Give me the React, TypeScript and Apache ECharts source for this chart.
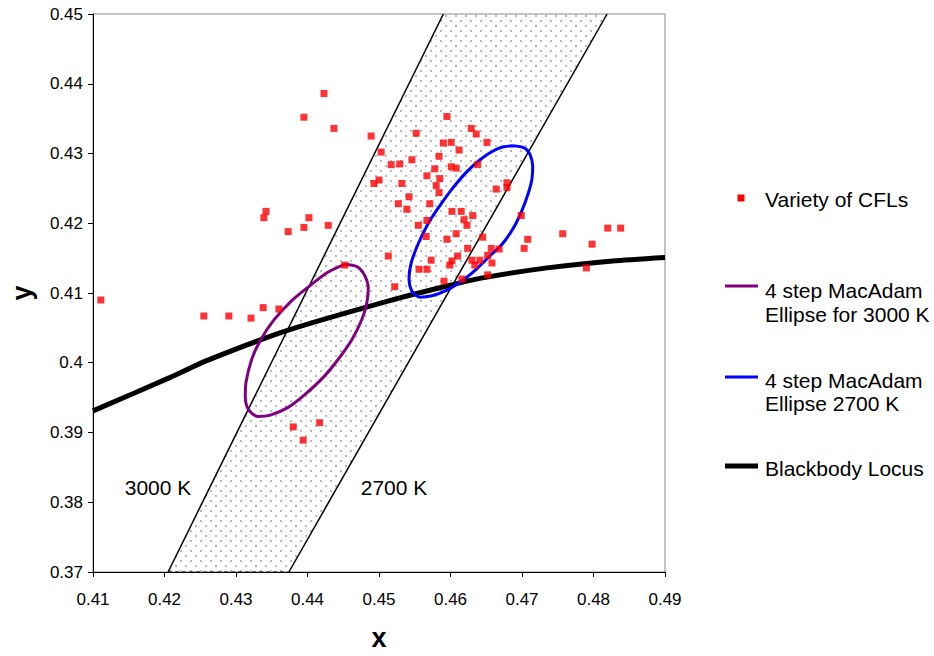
import React, { useEffect, useRef } from "react";
import * as echarts from "echarts";

const FONT = 'Arial, "Liberation Sans", Helvetica, sans-serif';

// Axis ranges / ticks
const xMin = 0.41;
const xMax = 0.49;
const yMin = 0.37;
const yMax = 0.45;
const tickStep = 0.01;

// Measured chromaticity points of a variety of CFLs
const cflPoints: [number, number][] = [
  [0.4111, 0.409], [0.4255, 0.4067], [0.429, 0.4067], [0.4321, 0.4064], [0.4338, 0.4079],
  [0.436, 0.4077], [0.4452, 0.414], [0.438, 0.3908], [0.4417, 0.3914], [0.4394, 0.3889],
  [0.4423, 0.4386], [0.4395, 0.4352], [0.4437, 0.4336], [0.4489, 0.4325], [0.4503, 0.4302],
  [0.4493, 0.4257], [0.45, 0.4262], [0.4342, 0.4217], [0.4339, 0.4208], [0.4402, 0.4208],
  [0.4395, 0.4194], [0.4429, 0.4197], [0.4373, 0.4188], [0.4513, 0.4153], [0.4522, 0.4109],
  [0.4595, 0.4353], [0.4552, 0.4329], [0.4629, 0.4336], [0.4636, 0.4328], [0.459, 0.4315],
  [0.4601, 0.4316], [0.4651, 0.4316], [0.4612, 0.4305], [0.4584, 0.4296], [0.4546, 0.4291],
  [0.4517, 0.4284], [0.4529, 0.4285], [0.4578, 0.4278], [0.4601, 0.4281], [0.4608, 0.4279],
  [0.4638, 0.4284], [0.4567, 0.4268], [0.4585, 0.4264], [0.4532, 0.4257], [0.458, 0.4254],
  [0.4584, 0.4244], [0.4664, 0.4249], [0.4679, 0.4258], [0.4679, 0.4251], [0.4542, 0.4238],
  [0.4527, 0.4228], [0.4571, 0.4228], [0.4539, 0.422], [0.4602, 0.4217], [0.4615, 0.4217],
  [0.4631, 0.4211], [0.4699, 0.4211], [0.4619, 0.4205], [0.4567, 0.4204], [0.4555, 0.4197],
  [0.4623, 0.4197], [0.4566, 0.4181], [0.4608, 0.4185], [0.4595, 0.4177], [0.4645, 0.418],
  [0.4757, 0.4185], [0.482, 0.4193], [0.4838, 0.4193], [0.4708, 0.4177], [0.4798, 0.417],
  [0.4703, 0.4164], [0.4668, 0.4163], [0.4657, 0.4164], [0.4624, 0.4164], [0.4652, 0.4154],
  [0.461, 0.4153], [0.4573, 0.4147], [0.4602, 0.4146], [0.463, 0.4147], [0.4641, 0.4147],
  [0.4658, 0.4143], [0.4634, 0.414], [0.4599, 0.414], [0.4556, 0.4134], [0.4567, 0.4134],
  [0.479, 0.4136], [0.4652, 0.4126], [0.4591, 0.4117], [0.4616, 0.412],
];

// Blackbody (Planckian) locus
const locusPoints: [number, number][] = [
  [0.41, 0.3931], [0.4208, 0.3979], [0.4259, 0.4003], [0.4371, 0.4046], [0.4515, 0.4089],
  [0.4595, 0.411], [0.4641, 0.4121], [0.4735, 0.4136], [0.4827, 0.4146], [0.49, 0.4151],
];

// 4 step MacAdam ellipse, 3000 K
const ellipse3000: [number, number][] = [
  [0.4452, 0.4141], [0.4469, 0.4138], [0.4479, 0.4127], [0.4485, 0.4107], [0.4483, 0.4086],
  [0.4476, 0.4062], [0.4462, 0.4033], [0.4443, 0.4005], [0.4422, 0.3979], [0.4397, 0.3955],
  [0.4373, 0.3936], [0.4348, 0.3925], [0.4331, 0.3923], [0.4318, 0.3932], [0.4313, 0.3951],
  [0.4314, 0.3972], [0.4322, 0.4005], [0.4334, 0.4032], [0.4352, 0.406], [0.4378, 0.4089],
  [0.4404, 0.4111], [0.4429, 0.413], [0.4452, 0.4141],
];

// 4 step MacAdam ellipse, 2700 K
const ellipse2700: [number, number][] = [
  [0.4687, 0.4311], [0.4703, 0.4308], [0.4711, 0.4299], [0.4715, 0.4281], [0.4714, 0.4264],
  [0.471, 0.4247], [0.4701, 0.4221], [0.4689, 0.4195], [0.4673, 0.4171], [0.4655, 0.4153],
  [0.4636, 0.4134], [0.4618, 0.4119], [0.4595, 0.4104], [0.4574, 0.4096], [0.4557, 0.4094],
  [0.4546, 0.4103], [0.4542, 0.4121], [0.4545, 0.4143], [0.4555, 0.4171], [0.4569, 0.42],
  [0.4585, 0.4225], [0.4602, 0.4249], [0.4623, 0.4274], [0.4645, 0.4294], [0.4669, 0.4308],
  [0.4687, 0.4311],
];

// Isotemperature lines bounding the 2700-3000 K band
const iso3000: [number, number][] = [[0.4205, 0.37], [0.459, 0.45]];
const iso2700: [number, number][] = [[0.4374, 0.37], [0.4819, 0.45]];
const bandCorners: [number, number][] = [iso3000[0], iso2700[0], iso2700[1], iso3000[1]];

const fmt = (v: number) => String(parseFloat(v.toFixed(2)));

export default function App() {
  const ref = useRef<HTMLDivElement>(null);

  useEffect(() => {
    if (!ref.current) return;
    const chart = echarts.init(ref.current, null, { renderer: "svg" });

    const canvas = document.createElement("canvas");
    canvas.width = 10;
    canvas.height = 10;
    const ctx = canvas.getContext("2d");
    if (ctx) {
      ctx.fillStyle = "#b8b8b8";
      ctx.fillRect(0, 0, 2, 2);
      ctx.fillRect(5, 5, 2, 2);
    }
    const pattern: any = { image: canvas, repeat: "repeat", imageWidth: 10, imageHeight: 10 };

    const legendText = (text: string, y: number) => ({
      type: "text",
      x: 765,
      y,
      z: 100,
      style: {
        text,
        fill: "#000",
        fontSize: 21,
        fontFamily: FONT,
        align: "left",
        textAlign: "left",
        verticalAlign: "middle",
        textVerticalAlign: "middle",
      },
    });
    const legendLine = (color: string, y: number, w: number) => ({
      type: "line",
      z: 100,
      shape: { x1: 725, y1: y, x2: 758, y2: y },
      style: { stroke: color, lineWidth: w },
    });
    const plotText = (text: string, x: number, y: number) => ({
      type: "text",
      x,
      y,
      z: 100,
      style: {
        text,
        fill: "#000",
        fontSize: 21,
        fontFamily: FONT,
        align: "center",
        textAlign: "center",
        verticalAlign: "middle",
        textVerticalAlign: "middle",
      },
    });

    chart.setOption({
      animation: false,
      backgroundColor: "#fff",
      grid: {
        left: 93,
        right: 269,
        top: 14,
        bottom: 80,
        show: true,
        borderColor: "#888",
        borderWidth: 1,
        backgroundColor: "transparent",
      },
      xAxis: {
        type: "value",
        min: xMin,
        max: xMax,
        interval: tickStep,
        name: "x",
        nameLocation: "middle",
        nameGap: 52,
        nameTextStyle: { fontSize: 27, fontWeight: "bold", color: "#000", fontFamily: FONT },
        axisLine: { show: true, onZero: false, lineStyle: { color: "#000", width: 1 } },
        axisTick: { show: true, inside: false, length: 5, lineStyle: { color: "#000" } },
        axisLabel: { color: "#000", fontSize: 17, fontFamily: FONT, margin: 19, formatter: fmt },
        splitLine: { show: false },
      },
      yAxis: {
        type: "value",
        min: yMin,
        max: yMax,
        interval: tickStep,
        name: "y",
        nameLocation: "middle",
        nameGap: 58,
        nameRotate: 90,
        nameTextStyle: { fontSize: 27, fontWeight: "bold", color: "#000", fontFamily: FONT },
        axisLine: { show: true, onZero: false, lineStyle: { color: "#000", width: 1 } },
        axisTick: { show: true, inside: false, length: 5, lineStyle: { color: "#000" } },
        axisLabel: { color: "#000", fontSize: 17, fontFamily: FONT, margin: 10, formatter: fmt },
        splitLine: { show: false },
      },
      series: [
        {
          type: "custom",
          name: "band",
          silent: true,
          clip: true,
          z: 1,
          encode: { x: 0, y: 1 },
          data: bandCorners,
          renderItem: (params: any, api: any) => {
            if (params.dataIndex !== 0) return null;
            const pts = bandCorners.map((p) => api.coord(p));
            return {
              type: "polygon",
              shape: { points: pts },
              style: { fill: pattern, stroke: null },
            };
          },
        },
        {
          type: "line",
          name: "band bottom",
          data: [iso3000[0], iso2700[0]],
          symbol: "none",
          silent: true,
          z: 2,
          lineStyle: { color: "#000", width: 1, type: [4, 3] },
        },
        {
          type: "line",
          name: "3000 K",
          data: iso3000,
          symbol: "none",
          silent: true,
          z: 2,
          lineStyle: { color: "#000", width: 1.5 },
        },
        {
          type: "line",
          name: "2700 K",
          data: iso2700,
          symbol: "none",
          silent: true,
          z: 2,
          lineStyle: { color: "#000", width: 1.5 },
        },
        {
          type: "line",
          name: "Blackbody Locus",
          data: locusPoints,
          symbol: "none",
          smooth: 0.2,
          silent: true,
          z: 3,
          lineStyle: { color: "#000", width: 5 },
        },
        {
          type: "line",
          name: "4 step MacAdam Ellipse for 3000 K",
          data: ellipse3000,
          symbol: "none",
          smooth: 0.3,
          silent: true,
          z: 3,
          lineStyle: { color: "#800080", width: 3 },
        },
        {
          type: "line",
          name: "4 step MacAdam Ellipse 2700 K",
          data: ellipse2700,
          symbol: "none",
          smooth: 0.3,
          silent: true,
          z: 3,
          lineStyle: { color: "#0000ff", width: 3 },
        },
        {
          type: "scatter",
          name: "Variety of CFLs",
          data: cflPoints,
          symbol: "rect",
          symbolSize: 7,
          silent: true,
          z: 5,
          itemStyle: { color: "#ff0000" },
        },
      ],
      graphic: [
        plotText("3000 K", 158, 487),
        plotText("2700 K", 394, 487),
        {
          type: "rect",
          z: 100,
          shape: { x: 737.5, y: 194.5, width: 7, height: 7 },
          style: { fill: "#ff0000" },
        },
        legendText("Variety of CFLs", 199),
        legendLine("#800080", 286, 3),
        legendText("4 step MacAdam", 290),
        legendText("Ellipse for 3000 K", 314),
        legendLine("#0000ff", 377, 3),
        legendText("4 step MacAdam", 380),
        legendText("Ellipse 2700 K", 403),
        legendLine("#000000", 466, 5),
        legendText("Blackbody Locus", 468),
      ],
    });

    return () => chart.dispose();
  }, []);

  return (
    <div
      ref={ref}
      style={{ position: "absolute", left: 0, top: 0, width: 934, height: 656, background: "#fff" }}
    />
  );
}
